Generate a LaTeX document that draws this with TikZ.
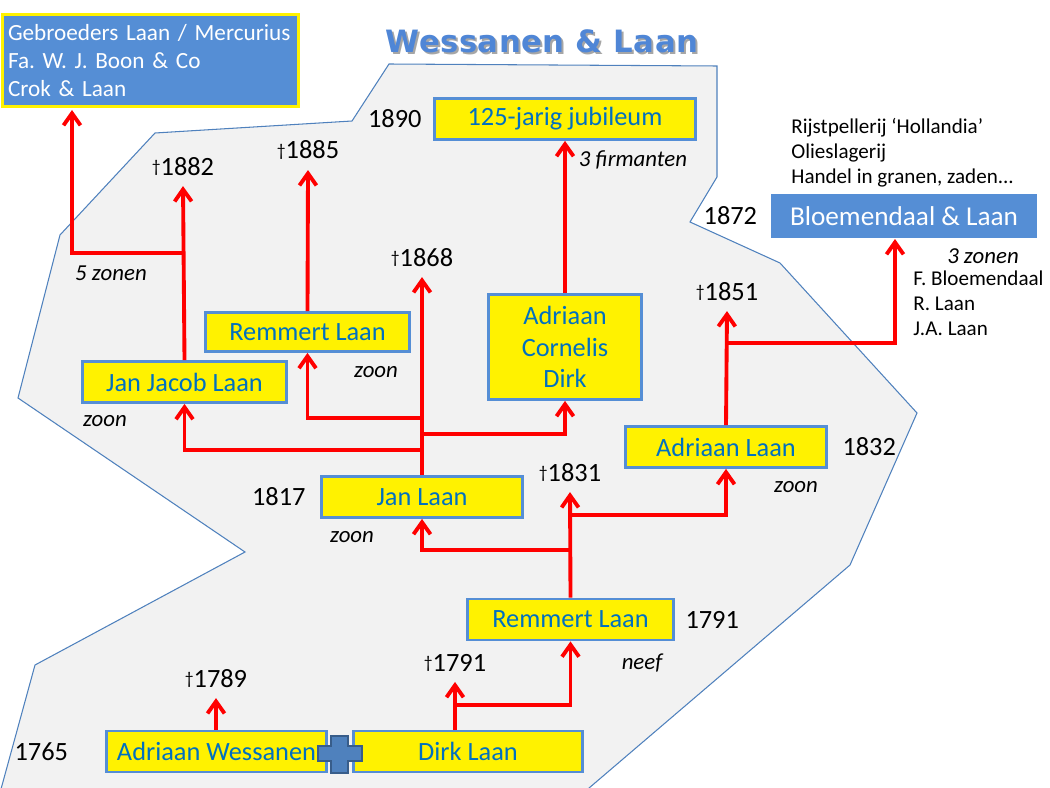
\documentclass[tikz,border=0pt]{standalone}
\usepackage{fontspec}
\setmainfont{Carlito}
\newfontfamily\titlefont[LetterSpace=1.5]{DejaVu Sans}
\usetikzlibrary{arrows.meta,positioning}

\definecolor{boxblue}{HTML}{558ED5}
\definecolor{nameblue}{HTML}{0070C0}
\definecolor{areagray}{HTML}{F2F2F2}
\definecolor{edgeblue}{HTML}{4F81BD}
\definecolor{crossedge}{HTML}{385D8A}
\definecolor{titleblue}{HTML}{4F86D6}

\newcommand{\dead}{{\fontsize{10}{10}\selectfont\raisebox{0.35ex}{†}}}

\begin{document}
\frenchspacing
\begin{tikzpicture}[
  x=0.02cm, y=-0.02cm,
  person/.style={draw=boxblue,fill=yellow,line width=1.6pt,text=nameblue,align=center,
    font=\fontsize{15}{18}\selectfont,minimum height=0.82cm,inner sep=1pt},
  firm/.style={fill=boxblue,text=white,font=\fontsize{15.5}{18}\selectfont,
    minimum height=0.88cm,inner sep=1pt},
  year/.style={font=\fontsize{15}{18}\selectfont,inner sep=1pt},
  death/.style={font=\fontsize{15}{18}\selectfont,anchor=base,inner xsep=0pt,inner ysep=6pt},
  rel/.style={font=\itshape\fontsize{13}{16}\selectfont,inner sep=1pt},
  note/.style={font=\fontsize{12}{14.2}\selectfont,align=left,anchor=west,inner sep=0pt},
  line/.style={red,line width=2.2pt},
  arr/.style={line,-{Straight Barb[length=2.4mm,width=3.4mm]}}
]
\useasboundingbox (0,0) rectangle (1050,787);

% grey area
\draw[edgeblue,fill=areagray,line width=0.6pt]
  (389,64) -- (717,66) -- (717,177) -- (690,222) -- (780,263) -- (917,413)
  -- (850,565) -- (575,800) -- (-2,800) -- (35,665) -- (245,552) -- (18,398)
  -- (60,235) -- (155,133) -- (352,121) -- cycle;

% title
\node[font=\titlefont\bfseries\fontsize{17.5}{20}\selectfont,text=black!35] at (544,43) {Wessanen \& Laan};
\node[font=\titlefont\bfseries\fontsize{17.5}{20}\selectfont,text=titleblue] (title) at (542,41) {Wessanen \& Laan};

% persons
\node[person,minimum width=4.4cm] (aw) at (216.5,751.5) {Adriaan Wessanen};
\node[person,minimum width=4.58cm] (dl) at (468,751.5) {Dirk Laan};
\node[person,minimum width=4.12cm] (rm1) at (570.5,619.5) {Remmert Laan};
\node[person,minimum width=4.02cm] (jl) at (422,497) {Jan Laan};
\node[person,minimum width=4.02cm] (al) at (726,447) {Adriaan Laan};
\node[person,minimum width=4.08cm] (jjl) at (184.5,382) {Jan Jacob Laan};
\node[person,minimum width=4.08cm,minimum height=0.78cm] (rm2) at (307.5,332) {Remmert Laan};
\node[person,minimum width=3.06cm,minimum height=2.1cm] (acd) at (565,347) {Adriaan\\Cornelis\\Dirk};
\node[person,minimum width=5.22cm] (jub) at (565,119) {125-jarig jubileum};

% firms
\node[firm,minimum width=5.32cm] (bl) at (904,216) {Bloemendaal \& Laan};
\node[firm,draw=yellow,line width=1.6pt,minimum width=5.92cm,minimum height=1.84cm,
  text width=5.7cm,align=left,font=\fontsize{13.2}{15.9}\selectfont] (gl) at (150.5,60.5)
  {Gebroeders Laan / Mercurius\\Fa. W. J. Boon \& Co\\Crok \& Laan};

% plus between the founders
\draw[crossedge,fill=edgeblue,line width=1pt]
  (331,736) -- (348,736) -- (348,746) -- (362,746) -- (362,761) -- (348,761)
  -- (348,773) -- (331,773) -- (331,761) -- (318,761) -- (318,746) -- (331,746) -- cycle;

% years
\node[year,left=0.7cm of aw] (y1765) {1765};
\node[year,right=0.17cm of rm1] (y1791) {1791};
\node[year,left=0.25cm of jl] (y1817) {1817};
\node[year,right=0.25cm of al] (y1832) {1832};
\node[year,left=0.23cm of bl] (y1872) {1872};
\node[year,left=0.19cm of jub] (y1890) {1890};

% deaths
\node[death] (d1789) at (216,687) {\dead1789};
\node[death] (d1791) at (455,671) {\dead1791};
\node[death] (d1831) at (570,481) {\dead1831};
\node[death] (d1868) at (422,266) {\dead1868};
\node[death] (d1882) at (183,175) {\dead1882};
\node[death] (d1885) at (308,159) {\dead1885};
\node[death] (d1851) at (727,300) {\dead1851};

% relations
\node[rel] (r1) at (642,663) {neef};
\node[rel] (r2) at (796,487) {zoon};
\node[rel] (r3) at (352,537) {zoon};
\node[rel] (r4) at (376,372) {zoon};
\node[rel] (r5) at (105,421) {zoon};
\node[rel] (r6) at (111,273) {5 zonen};
\node[rel] (r7) at (633,160) {3 firmanten};
\node[rel] (r8) at (983,256) {3 zonen};

% notes
\node[note] (sons) at (913,303) {F. Bloemendaal\\R. Laan\\J.A. Laan};
\node[note] (trade) at (791,153) {Rijstpellerij ‘Hollandia’\\Olieslagerij\\Handel in granen, zaden...};

% branch points
\coordinate (b1) at (455,705);
\coordinate (b2) at (570,550);
\coordinate (b3) at (570,515);
\coordinate (b4) at (422,434);
\coordinate (b5) at (422,418);
\coordinate (b6) at (422,450);
\coordinate (b7) at (183,253);
\coordinate (b8) at (727,343);
\coordinate (glfoot) at (72,110);
\coordinate (blfoot) at (895,239);

% connectors
\draw[arr] (aw.north -| d1789) -- (d1789.south);
\draw[arr] (dl.north -| d1791) -- (d1791.south);
\draw[arr] (b1) -| (rm1.south);
\draw[arr] (rm1.north) -- (d1831.south);
\draw[arr] (b2) -| (jl.south);
\draw[arr] (b3) -| (al.south);
\draw[arr] (jl.north) -- (d1868.south);
\draw[arr] (b4) -| (acd.south);
\draw[arr] (b5) -| (rm2.south);
\draw[arr] (b6) -| (jjl.south);
\draw[arr] (jjl.north) -- (d1882.south);
\draw[arr] (b7) -| (glfoot);
\draw[arr] (rm2.north) -- (d1885.south);
\draw[arr] (acd.north) -- (jub.south);
\draw[arr] (al.north) -- (d1851.south);
\draw[arr] (b8) -| (blfoot);
\end{tikzpicture}
\end{document}
